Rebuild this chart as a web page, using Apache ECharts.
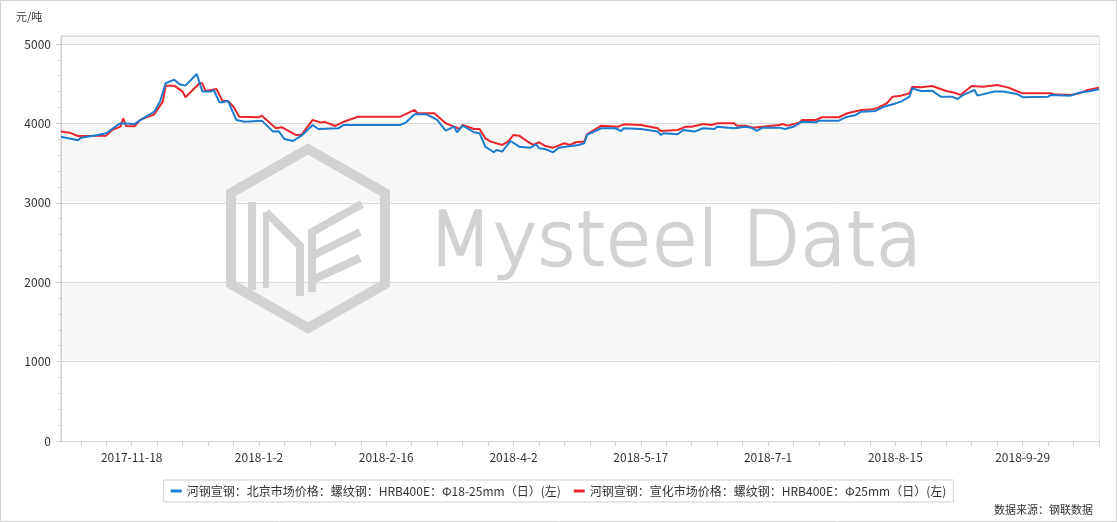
<!DOCTYPE html>
<html><head><meta charset="utf-8">
<script src="https://cdn.jsdelivr.net/npm/echarts@6/dist/echarts.min.js"></script>
<style>html,body{margin:0;padding:0;background:#fff}#c{width:1117px;height:522px}</style>
</head><body><div id="c"></div>
<script>
const unitLabel = '元/吨';
const sourceText = '数据来源：钢联数据';
const watermarkText = 'Mysteel Data';
const seriesNames = [
  '河钢宣钢：北京市场价格：螺纹钢：HRB400E：Φ18-25mm（日）(左)',
  '河钢宣钢：宣化市场价格：螺纹钢：HRB400E：Φ25mm（日）(左)'
];
const xStart = '2017-10-24';
const xEnd = '2018-10-26';
const xLabelDates = ['2017-11-18','2018-1-2','2018-2-16','2018-4-2','2018-5-17','2018-7-1','2018-8-15','2018-9-29'];
const yLabelValues = [0, 1000, 2000, 3000, 4000, 5000];
const yMax = 5100;

const bjDates = ['2017-10-24','2017-10-30','2017-10-31','2017-11-6','2017-11-9','2017-11-13','2017-11-14','2017-11-19','2017-11-22','2017-11-26','2017-11-28','2017-11-30','2017-12-3','2017-12-5','2017-12-7','2017-12-11','2017-12-13','2017-12-16','2017-12-17','2017-12-19','2017-12-20','2017-12-22','2017-12-25','2017-12-28',
'2018-1-3','2018-1-7','2018-1-9','2018-1-11','2018-1-14','2018-1-17','2018-1-21','2018-1-23','2018-1-30','2018-2-1','2018-2-21','2018-2-23','2018-2-26','2018-3-2','2018-3-5','2018-3-6','2018-3-9','2018-3-12','2018-3-13','2018-3-15','2018-3-19','2018-3-21','2018-3-23','2018-3-26','2018-3-27','2018-3-29','2018-3-31',
'2018-4-1','2018-4-4','2018-4-8','2018-4-10','2018-4-11','2018-4-13','2018-4-16','2018-4-18','2018-4-23','2018-4-25','2018-4-27','2018-4-28','2018-5-3','2018-5-8','2018-5-10','2018-5-11','2018-5-17','2018-5-23','2018-5-24','2018-5-25','2018-5-30',
'2018-6-1','2018-6-5','2018-6-8','2018-6-12','2018-6-13','2018-6-19','2018-6-23','2018-6-25','2018-6-27','2018-6-29','2018-7-5','2018-7-7','2018-7-10','2018-7-13','2018-7-18','2018-7-19','2018-7-26','2018-7-29',
'2018-8-1','2018-8-3','2018-8-8','2018-8-11','2018-8-15','2018-8-17','2018-8-20','2018-8-21','2018-8-24','2018-8-28','2018-8-31','2018-9-4','2018-9-6','2018-9-8','2018-9-12','2018-9-13','2018-9-19','2018-9-22','2018-9-27','2018-9-29',
'2018-10-8','2018-10-9','2018-10-16','2018-10-19','2018-10-22','2018-10-26'];
const bjPrices = [3832,3787,3820,3854,3875,3980,4001,3992,4064,4147,4274,4505,4550,4492,4475,4622,4400,4400,4420,4266,4266,4282,4043,4021,
4034,3896,3900,3803,3778,3845,3980,3929,3938,3980,3980,4013,4115,4115,4064,4043,3908,3958,3888,3971,3888,3875,3706,3636,3665,3644,3737,
3778,3706,3694,3737,3686,3678,3636,3694,3719,3728,3749,3854,3938,3938,3904,3938,3929,3896,3854,3875,3863,
3917,3896,3938,3929,3958,3938,3958,3945,3904,3946,3946,3929,3958,4021,4013,4034,4034,4084,
4106,4147,4156,4210,4251,4274,4336,4442,4408,4412,4336,4336,4307,4358,4420,4349,4400,4400,4370,4329,
4336,4358,4349,4386,4400,4429];

const xhDates = ['2017-10-24','2017-10-27','2017-10-30','2017-11-9','2017-11-11','2017-11-14','2017-11-15','2017-11-16','2017-11-19','2017-11-21','2017-11-26','2017-11-29','2017-11-30','2017-12-3','2017-12-6','2017-12-7','2017-12-12','2017-12-13','2017-12-14','2017-12-16','2017-12-18','2017-12-20','2017-12-22','2017-12-24','2017-12-26',
'2018-1-2','2018-1-3','2018-1-8','2018-1-10','2018-1-15','2018-1-17','2018-1-21','2018-1-24','2018-1-25','2018-1-29','2018-2-1','2018-2-6','2018-2-21','2018-2-26','2018-2-27','2018-3-5','2018-3-9','2018-3-12','2018-3-14','2018-3-15','2018-3-19','2018-3-21','2018-3-23','2018-3-25','2018-3-29','2018-3-31',
'2018-4-2','2018-4-4','2018-4-7','2018-4-9','2018-4-11','2018-4-13','2018-4-16','2018-4-20','2018-4-22','2018-4-24','2018-4-27','2018-4-28','2018-5-3','2018-5-9','2018-5-11','2018-5-17','2018-5-23','2018-5-24','2018-5-30',
'2018-6-2','2018-6-4','2018-6-8','2018-6-11','2018-6-13','2018-6-19','2018-6-20','2018-6-23','2018-6-26','2018-6-29','2018-7-5','2018-7-6','2018-7-8','2018-7-12','2018-7-13','2018-7-18','2018-7-20','2018-7-26','2018-7-29',
'2018-8-3','2018-8-7','2018-8-9','2018-8-12','2018-8-14','2018-8-17','2018-8-20','2018-8-21','2018-8-24','2018-8-28','2018-9-2','2018-9-5','2018-9-7','2018-9-11','2018-9-15','2018-9-20','2018-9-24','2018-9-26','2018-9-29',
'2018-10-9','2018-10-10','2018-10-16','2018-10-19','2018-10-22','2018-10-26'];
const xhPrices = [3896,3883,3841,3845,3917,3958,4064,3967,3963,4043,4115,4274,4475,4475,4400,4329,4505,4505,4408,4420,4433,4286,4282,4210,4084,
4077,4097,3938,3951,3854,3854,4043,4009,4021,3967,4021,4084,4084,4169,4127,4127,4001,3958,3929,3980,3929,3929,3812,3770,3728,3770,
3854,3845,3770,3728,3762,3719,3694,3749,3728,3762,3770,3863,3971,3958,3988,3980,3938,3904,3917,
3958,3958,3992,3980,4001,4001,3971,3971,3946,3958,3980,3992,3971,4009,4043,4043,4077,4077,4127,
4169,4177,4198,4253,4336,4349,4378,4462,4454,4471,4408,4386,4358,4471,4462,4484,4450,4420,4378,
4378,4366,4358,4378,4420,4450];

function dayNum(s){ const p = s.split('-').map(Number); return Math.round(Date.UTC(p[0], p[1]-1, p[2]) / 864e5); }
function fmtDay(v){ const d = new Date(Math.round(v) * 864e5); return d.getUTCFullYear() + '-' + (d.getUTCMonth()+1) + '-' + d.getUTCDate(); }
function pairs(ds, vs){ return ds.map((d, i) => [dayNum(d), vs[i]]); }

const xMin = dayNum(xStart), xMax = dayNum(xEnd);
const xLabelVals = xLabelDates.map(dayNum);
const xTickVals = [];
for (let v = xLabelVals[0]; v >= xMin; v -= 9) xTickVals.unshift(v);
for (let v = xLabelVals[0] + 9; v <= xMax; v += 9) xTickVals.push(v);
const yMinorVals = [];
for (let v = 200; v < 5000; v += 200) if (v % 1000) yMinorVals.push(v);

const FONT = '"Noto Sans CJK SC", "Noto Sans", sans-serif';
const chart = echarts.init(document.getElementById('c'), null, {renderer: 'canvas'});
const hex = [[308,149],[385,193],[385,284],[308,328],[231,284],[231,193]];
const wmColor = '#d2d2d2';
chart.setOption({
  animation: false,
  backgroundColor: '#fff',
  textStyle: {fontFamily: FONT},
  grid: {left: 61, right: 18, top: 36, bottom: 81, show: true, borderColor: '#d0d0d0', borderWidth: 1, backgroundColor: 'transparent'},
  legend: {
    left: 'center', top: 480, icon: 'rect', itemWidth: 11, itemHeight: 3, itemGap: 13,
    borderColor: '#cfcfcf', borderWidth: 1, padding: [5, 7],
    textStyle: {fontSize: 12, color: '#333', fontFamily: FONT},
    data: seriesNames
  },
  graphic: [
    {type: 'rect', silent: true, z: 100, shape: {x: 0.5, y: 0.5, width: 1116, height: 521}, style: {fill: null, stroke: '#d0d0d0', lineWidth: 1}},
    {type: 'text', left: 16, top: 11, style: {text: unitLabel, fontSize: 11, fill: '#333', fontFamily: FONT}},
    {type: 'text', right: 24, top: 504, style: {text: sourceText, fontSize: 11, fill: '#333', fontFamily: FONT}},
    {type: 'text', z: 1, silent: true, x: 428, y: 208, style: {text: watermarkText, fontSize: 75, fill: wmColor, stroke: wmColor, lineWidth: 2.5, fontFamily: '"DejaVu Sans", sans-serif', fontWeight: 200}},
    {type: 'polygon', z: 1, silent: true, shape: {points: hex}, style: {fill: null, stroke: wmColor, lineWidth: 10, lineJoin: 'miter'}},
    {type: 'polyline', z: 1, silent: true, shape: {points: [[252,202],[252,290]]}, style: {stroke: wmColor, lineWidth: 8}},
    {type: 'polyline', z: 1, silent: true, shape: {points: [[266,212],[266,288]]}, style: {stroke: wmColor, lineWidth: 6}},
    {type: 'polyline', z: 1, silent: true, shape: {points: [[266,212],[300,246],[300,296]]}, style: {stroke: wmColor, lineWidth: 8, lineJoin: 'miter'}},
    {type: 'polyline', z: 1, silent: true, shape: {points: [[362,204],[312,232],[312,292]]}, style: {stroke: wmColor, lineWidth: 8, lineJoin: 'miter'}},
    {type: 'polyline', z: 1, silent: true, shape: {points: [[312,256],[360,232]]}, style: {stroke: wmColor, lineWidth: 8}},
    {type: 'polyline', z: 1, silent: true, shape: {points: [[312,280],[360,258]]}, style: {stroke: wmColor, lineWidth: 8}}
  ],
  xAxis: {
    type: 'value', min: xMin, max: xMax,
    axisLine: {show: true, lineStyle: {color: '#d0d0d0'}},
    axisTick: {show: true, customValues: xTickVals, length: 5, lineStyle: {color: '#d0d0d0'}},
    axisLabel: {customValues: xLabelVals, formatter: fmtDay, color: '#333', fontSize: 12, margin: 10, fontFamily: FONT},
    splitLine: {show: false}
  },
  yAxis: [
    {
      type: 'value', min: 0, max: yMax, interval: 1000,
      axisLine: {show: true, lineStyle: {color: '#d0d0d0'}},
      axisTick: {show: false},
      axisLabel: {customValues: yLabelValues, formatter: v => String(v), color: '#333', fontSize: 12, margin: 10, fontFamily: FONT},
      splitLine: {show: true, lineStyle: {color: '#d9d9d9'}},
      splitArea: {show: true, areaStyle: {color: ['#ffffff', '#f7f7f7']}}
    },
    {
      type: 'value', min: 0, max: yMax, position: 'left',
      axisLine: {show: false}, axisLabel: {show: false}, splitLine: {show: false},
      axisTick: {show: true, customValues: yLabelValues, length: 5, lineStyle: {color: '#d0d0d0'}}
    },
    {
      type: 'value', min: 0, max: yMax, position: 'left',
      axisLine: {show: false}, axisLabel: {show: false}, splitLine: {show: false},
      axisTick: {show: true, customValues: yMinorVals, length: 3, lineStyle: {color: '#d0d0d0'}}
    }
  ],
  series: [
    {name: seriesNames[0], type: 'line', data: pairs(bjDates, bjPrices), showSymbol: false, symbol: 'none', z: 3,
     lineStyle: {color: '#1b7bd0', width: 2}, itemStyle: {color: '#1b7bd0'}},
    {name: seriesNames[1], type: 'line', data: pairs(xhDates, xhPrices), showSymbol: false, symbol: 'none', z: 2,
     lineStyle: {color: '#e8262b', width: 2}, itemStyle: {color: '#e8262b'}}
  ]
});
</script></body></html>
